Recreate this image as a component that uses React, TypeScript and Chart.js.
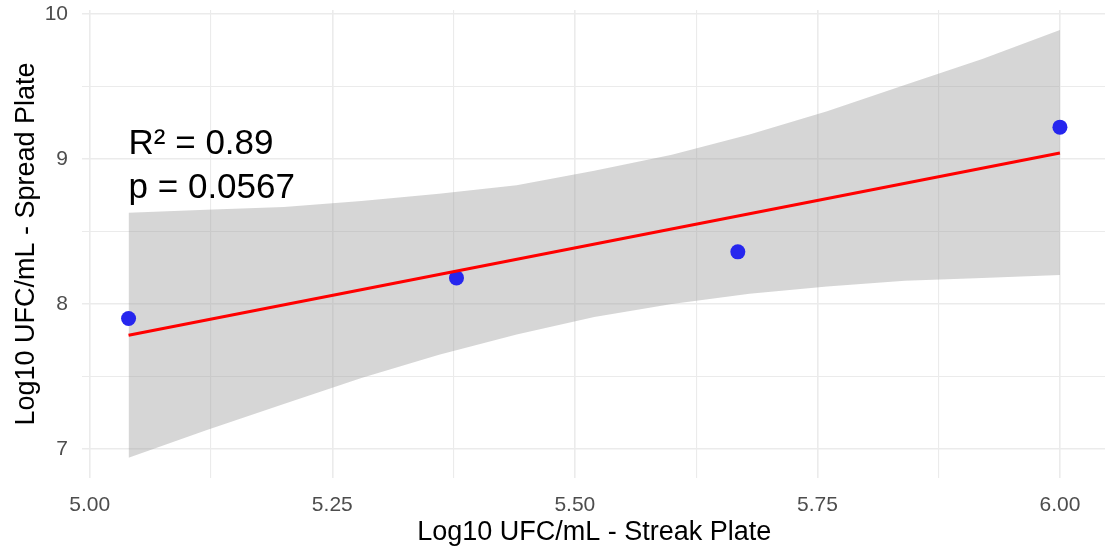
import React, { useEffect, useRef } from 'react';
import { Chart, registerables } from 'chart.js';

Chart.register(...registerables);

// Observed points
const streakX = [5.04, 5.378, 5.668, 6.0];
const spreadY = [7.9, 8.18, 8.36, 9.22];

// Fitted line (read at its ends)
const fitX = [5.04, 6.0];
const fitY = [7.784, 9.042];

// Confidence band
const bandX = [5.04, 5.12, 5.2, 5.28, 5.36, 5.44, 5.52, 5.6, 5.68, 5.76, 5.84, 5.92, 6.0];
const bandUpper = [8.63, 8.65, 8.67, 8.71, 8.76, 8.82, 8.92, 9.03, 9.17, 9.33, 9.51, 9.69, 9.89];
const bandLower = [6.94, 7.13, 7.31, 7.49, 7.65, 7.79, 7.91, 8.0, 8.07, 8.12, 8.16, 8.18, 8.2];

// Ticks
const xTickValues = [5, 5.125, 5.25, 5.375, 5.5, 5.625, 5.75, 5.875, 6];
const xTickLabels = ['5.00', '', '5.25', '', '5.50', '', '5.75', '', '6.00'];
const yTickValues = [7, 7.5, 8, 8.5, 9, 9.5, 10];
const yTickLabels = ['7', '', '8', '', '9', '', '10'];

// Annotation
const statLabels = ['R² = 0.89', 'p = 0.0567'];
const statY = [9.1, 8.8];
const statX = 5.04;

const FONT = "'Liberation Sans', Arial, sans-serif";

export default function App() {
  const ref = useRef<HTMLCanvasElement | null>(null);

  useEffect(() => {
    if (!ref.current) return;
    const annotate = {
      id: 'statText',
      afterDatasetsDraw(chart: any) {
        const { ctx, scales } = chart;
        ctx.save();
        ctx.font = `35px ${FONT}`;
        ctx.fillStyle = '#000000';
        ctx.textAlign = 'left';
        ctx.textBaseline = 'middle';
        statLabels.forEach((t, i) => {
          ctx.fillText(t, scales.x.getPixelForValue(statX), scales.y.getPixelForValue(statY[i]));
        });
        ctx.restore();
      },
    };

    const chart = new Chart(ref.current, {
      type: 'line',
      data: {
        datasets: [
          {
            label: 'fit',
            data: fitX.map((x, i) => ({ x, y: fitY[i] })),
            borderColor: '#ff0000',
            borderWidth: 3,
            pointRadius: 0,
            fill: false,
            order: 0,
          },
          {
            label: 'points',
            data: streakX.map((x, i) => ({ x, y: spreadY[i] })),
            showLine: false,
            pointRadius: 7.5,
            pointBorderWidth: 0,
            pointBackgroundColor: '#2626ee',
            backgroundColor: '#2626ee',
            order: 1,
          },
          {
            label: 'upper',
            data: bandX.map((x, i) => ({ x, y: bandUpper[i] })),
            borderWidth: 0,
            borderColor: 'rgba(0,0,0,0)',
            pointRadius: 0,
            backgroundColor: 'rgba(153,153,153,0.4)',
            fill: '+1',
            order: 2,
          },
          {
            label: 'lower',
            data: bandX.map((x, i) => ({ x, y: bandLower[i] })),
            borderWidth: 0,
            borderColor: 'rgba(0,0,0,0)',
            pointRadius: 0,
            fill: false,
            order: 3,
          },
        ],
      },
      options: {
        animation: false,
        responsive: false,
        maintainAspectRatio: false,
        layout: { padding: { top: 10, left: 0, right: 0, bottom: 0 } },
        plugins: {
          legend: { display: false },
          tooltip: { enabled: false },
        },
        scales: {
          x: {
            type: 'linear',
            min: 4.992,
            max: 6.048,
            afterBuildTicks: (s: any) => {
              s.ticks = xTickValues.map((v) => ({ value: v }));
            },
            afterFit: (s: any) => {
              s.height = 71;
              s.paddingLeft = 0;
              s.paddingRight = 0;
            },
            border: { display: false },
            grid: {
              drawTicks: false,
              color: '#ebebeb',
              lineWidth: (c: any) => (xTickLabels[c.index] ? 1.6 : 1.1),
            },
            ticks: {
              autoSkip: false,
              maxRotation: 0,
              padding: 15,
              color: '#4d4d4d',
              font: { family: FONT, size: 21 },
              callback: (_v: any, i: number) => xTickLabels[i],
            },
            title: {
              display: true,
              text: 'Log10 UFC/mL - Streak Plate',
              color: '#000000',
              font: { family: FONT, size: 27 },
              padding: { top: 0, bottom: 0 },
            },
          },
          y: {
            type: 'linear',
            min: 6.8,
            max: 10.028,
            afterBuildTicks: (s: any) => {
              s.ticks = yTickValues.map((v) => ({ value: v }));
            },
            afterFit: (s: any) => {
              s.width = 82;
              s.paddingTop = 0;
              s.paddingBottom = 0;
            },
            border: { display: false },
            grid: {
              drawTicks: false,
              color: '#ebebeb',
              lineWidth: (c: any) => (yTickLabels[c.index] ? 1.6 : 1.1),
            },
            ticks: {
              autoSkip: false,
              padding: 14,
              color: '#4d4d4d',
              font: { family: FONT, size: 21 },
              callback: (_v: any, i: number) => yTickLabels[i],
            },
            title: {
              display: true,
              text: 'Log10 UFC/mL - Spread Plate',
              color: '#000000',
              font: { family: FONT, size: 27 },
              padding: { top: 10, bottom: 0 },
            },
          },
        },
      },
      plugins: [annotate],
    });
    return () => chart.destroy();
  }, []);

  return (
    <div
      style={{
        position: 'absolute',
        left: 0,
        top: 0,
        width: 1105,
        height: 549,
        overflow: 'hidden',
        background: '#ffffff',
      }}
    >
      <canvas ref={ref} width={1114} height={549} style={{ display: 'block', width: 1114, height: 549 }} />
    </div>
  );
}
